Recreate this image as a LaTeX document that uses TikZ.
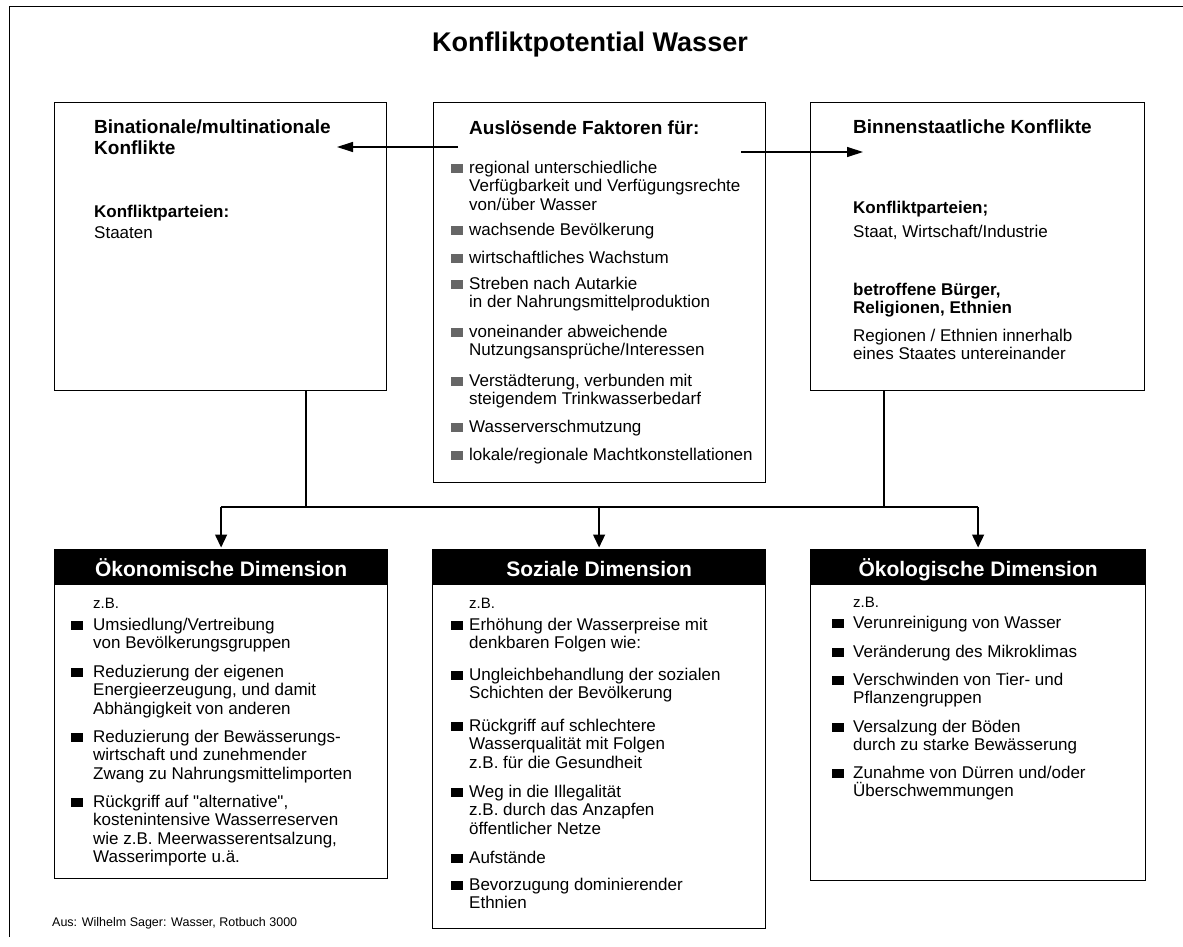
\documentclass[tikz,border=0pt]{standalone}
\usepackage{fontspec}
\setmainfont{Liberation Sans}[Ligatures=TeXOff]
\usepackage{tikz}
\usetikzlibrary{arrows.meta}

\begin{document}
\begin{tikzpicture}[x=1pt,y=-1pt,
	kasten/.style={draw, line width=1.2pt, anchor=north west, inner sep=0pt},
	eintrag/.style={anchor=north west, yshift=7.3pt, inner sep=0pt, align=left, font=\fontsize{17}{18.4}\selectfont, execute at begin node=\strut},
	fett/.style={eintrag, font=\fontsize{17}{18.4}\selectfont\bfseries},
	ueber/.style={eintrag, yshift=0.9pt, font=\fontsize{19}{21}\selectfont\bfseries},
	zb/.style={eintrag, yshift=0.3pt, font=\fontsize{15}{18}\selectfont},
	kopf/.style={anchor=base, text=white, font=\fontsize{21}{24}\selectfont\bfseries, inner sep=0pt},
	pfeil/.style={line width=1.2pt, -{Triangle[length=16pt,width=10pt]}},
	runter/.style={line width=1.4pt, -{Triangle[length=13pt,width=12pt]}, shorten >=1.5pt},
	stamm/.style={line width=1.8pt}]

	\useasboundingbox (0,0) rectangle (1183,947);

	% Frame
	\draw [line width=1pt] (9,937) -- (9,7) -- (1183,7);
	\node [font=\fontsize{27}{30}\selectfont\bfseries] (titel) at (590,45) {Konfliktpotential Wasser};

	% Upper boxes
	\node [kasten, minimum width=332pt, minimum height=288pt] (bin) at (54,102) {};
	\node [kasten, minimum width=332pt, minimum height=380pt] (faktoren) at (433,102) {};
	\node [kasten, minimum width=334pt, minimum height=288pt] (binnen) at (810,102) {};

	% Binational
	\node [ueber] (binkopf) at (94,128) {Binationale/multinationale\\Konflikte};
	\node [fett] (binpart) at (94,212) {Konfliktparteien:};
	\node [eintrag] (binstaat) at (94,233) {Staaten};

	% Ausloesende Faktoren
	\node [ueber] (fkopf) at (469,128) {Auslösende Faktoren für:};
	\node [eintrag] (f1) at (469,168) {regional unterschiedliche\\Verfügbarkeit und Verfügungsrechte\\von/über Wasser};
	\node [eintrag] (f2) at (469,230) {wachsende Bevölkerung};
	\node [eintrag] (f3) at (469,258) {wirtschaftliches Wachstum};
	\node [eintrag] (f4) at (469,284) {Streben nach Autarkie\\in der Nahrungsmittelproduktion};
	\node [eintrag] (f5) at (469,332) {voneinander abweichende\\Nutzungsansprüche/Interessen};
	\node [eintrag] (f6) at (469,381) {Verstädterung, verbunden mit\\steigendem Trinkwasserbedarf};
	\node [eintrag] (f7) at (469,427) {Wasserverschmutzung};
	\node [eintrag] (f8) at (469,455) {lokale/regionale Machtkonstellationen};
	\fill [black!60] (451,163.5) rectangle +(12,9);
	\fill [black!60] (451,225.5) rectangle +(12,9);
	\fill [black!60] (451,253.5) rectangle +(12,9);
	\fill [black!60] (451,279.5) rectangle +(12,9);
	\fill [black!60] (451,327.5) rectangle +(12,9);
	\fill [black!60] (451,376.5) rectangle +(12,9);
	\fill [black!60] (451,422.5) rectangle +(12,9);
	\fill [black!60] (451,450.5) rectangle +(12,9);

	% Binnenstaatlich
	\node [ueber] (bkopf) at (853,127) {Binnenstaatliche Konflikte};
	\node [fett] (bpart) at (853,208) {Konfliktparteien;};
	\node [eintrag] (bstaat) at (853,232) {Staat, Wirtschaft/Industrie};
	\node [fett] (bbuerger) at (853,290) {betroffene Bürger,\\Religionen, Ethnien};
	\node [eintrag] (bregion) at (853,336) {Regionen / Ethnien innerhalb\\eines Staates untereinander};

	% Arrows to both sides
	\coordinate (lstart) at (458,147);
	\coordinate (lziel) at (337,147);
	\coordinate (rstart) at (741,152);
	\coordinate (rziel) at (863,152);
	\draw [pfeil] (lstart) -- (lziel);
	\draw [pfeil] (rstart) -- (rziel);

	% Lower boxes
	\node [kasten, minimum width=333pt, minimum height=329pt] (oekon) at (54,549) {};
	\node [kasten, minimum width=333pt, minimum height=379pt] (sozial) at (432,549) {};
	\node [kasten, minimum width=335pt, minimum height=331pt] (oekol) at (810,549) {};
	\fill (oekon.north west) rectangle ([yshift=-36pt]oekon.north east);
	\fill (sozial.north west) rectangle ([yshift=-36pt]sozial.north east);
	\fill (oekol.north west) rectangle ([yshift=-36pt]oekol.north east);
	\node [kopf] (oekonkopf) at ([yshift=-27pt]oekon.north) {Ökonomische Dimension};
	\node [kopf] (sozialkopf) at ([yshift=-27pt]sozial.north) {Soziale Dimension};
	\node [kopf] (oekolkopf) at ([yshift=-27pt]oekol.north) {Ökologische Dimension};

	% Oekonomische Dimension
	\node [zb] (ezb) at (93,603) {z.B.};
	\node [eintrag] (e1) at (93,625) {Umsiedlung/Vertreibung\\von Bevölkerungsgruppen};
	\node [eintrag] (e2) at (93,672) {Reduzierung der eigenen\\Energieerzeugung, und damit\\Abhängigkeit von anderen};
	\node [eintrag] (e3) at (93,737) {Reduzierung der Bewässerungs-\\wirtschaft und zunehmender\\Zwang zu Nahrungsmittelimporten};
	\node [eintrag] (e4) at (93,802) {Rückgriff auf "alternative",\\kostenintensive Wasserreserven\\wie z.B. Meerwasserentsalzung,\\Wasserimporte u.ä.};
	\fill (71,620.5) rectangle +(12,9);
	\fill (71,667.5) rectangle +(12,9);
	\fill (71,732.5) rectangle +(12,9);
	\fill (71,797.5) rectangle +(12,9);

	% Soziale Dimension
	\node [zb] (szb) at (469,603) {z.B.};
	\node [eintrag] (s1) at (469,625) {Erhöhung der Wasserpreise mit\\denkbaren Folgen wie:};
	\node [eintrag] (s2) at (469,675) {Ungleichbehandlung der sozialen\\Schichten der Bevölkerung};
	\node [eintrag] (s3) at (469,726) {Rückgriff auf schlechtere\\Wasserqualität mit Folgen\\z.B. für die Gesundheit};
	\node [eintrag] (s4) at (469,792) {Weg in die Illegalität\\z.B. durch das Anzapfen\\öffentlicher Netze};
	\node [eintrag] (s5) at (469,858) {Aufstände};
	\node [eintrag] (s6) at (469,885) {Bevorzugung dominierender\\Ethnien};
	\fill (451,620.5) rectangle +(12,9);
	\fill (451,670.5) rectangle +(12,9);
	\fill (451,721.5) rectangle +(12,9);
	\fill (451,787.5) rectangle +(12,9);
	\fill (451,853.5) rectangle +(12,9);
	\fill (451,880.5) rectangle +(12,9);

	% Oekologische Dimension
	\node [zb] (kzb) at (853,602) {z.B.};
	\node [eintrag] (k1) at (853,623) {Verunreinigung von Wasser};
	\node [eintrag] (k2) at (853,652) {Veränderung des Mikroklimas};
	\node [eintrag] (k3) at (853,680) {Verschwinden von Tier- und\\Pflanzengruppen};
	\node [eintrag] (k4) at (853,727) {Versalzung der Böden\\durch zu starke Bewässerung};
	\node [eintrag] (k5) at (853,773) {Zunahme von Dürren und/oder\\Überschwemmungen};
	\fill (832,618.5) rectangle +(12,9);
	\fill (832,647.5) rectangle +(12,9);
	\fill (832,675.5) rectangle +(12,9);
	\fill (832,722.5) rectangle +(12,9);
	\fill (832,768.5) rectangle +(12,9);

	% Connections down
	\coordinate (knotenL) at (306,507);
	\coordinate (knotenR) at (884,507);
	\draw [stamm] (bin.south -| knotenL) -- (knotenL);
	\draw [stamm] (binnen.south -| knotenR) -- (knotenR);
	\draw [line width=1.4pt] (oekon.north |- knotenL) -- (oekol.north |- knotenL);
	\draw [runter] (oekon.north |- knotenL) -- (oekon.north);
	\draw [runter] (sozial.north |- knotenL) -- (sozial.north);
	\draw [runter] (oekol.north |- knotenL) -- (oekol.north);

	% Source
	\node [anchor=base west, inner sep=0pt, font=\fontsize{12.5}{15}\selectfont] (quelle) at (52,926) {Aus: Wilhelm Sager: Wasser, Rotbuch 3000};

\end{tikzpicture}
\end{document}
